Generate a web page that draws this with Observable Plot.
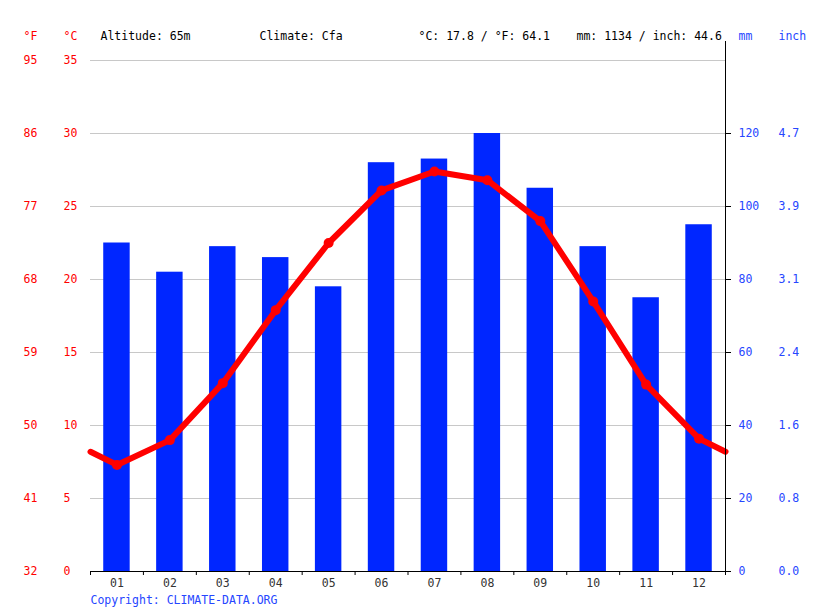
<!DOCTYPE html>
<html>
<head>
<meta charset="utf-8">
<script src="https://cdn.jsdelivr.net/npm/d3@7"></script>
<script src="https://cdn.jsdelivr.net/npm/@observablehq/plot@0.6"></script>
<style>
  html, body { margin: 0; padding: 0; background: #fff; }
</style>
</head>
<body>
<div id="chart"></div>
<script>
const months = ["01","02","03","04","05","06","07","08","09","10","11","12"];
const precipMm = [90, 82, 89, 86, 78, 112, 113, 120, 105, 89, 75, 95];
const tempC = [7.3, 9.0, 12.9, 17.9, 22.5, 26.1, 27.4, 26.8, 24.0, 18.5, 12.8, 9.1];
const tempTicksC = [0, 5, 10, 15, 20, 25, 30, 35];
const precipTicksMm = [0, 20, 40, 60, 80, 100, 120];
const headerTexts = ["Altitude: 65m", "Climate: Cfa", "°C: 17.8 / °F: 64.1", "mm: 1134 / inch: 44.6"];
const copyright = "Copyright: CLIMATE-DATA.ORG";

const RED = "#ff0000";
const BLUE = "#0026ff";
const BLUE_TEXT = "#2646ff";
const MM_PER_C = 4; // 140 mm spans the same height as 35 °C

const bars = months.map((m, i) => ({i, mm: precipMm[i]}));
const tempPts = months.map((m, i) => ({x: i + 0.5, t: tempC[i]}));
const edge = (tempC[0] + tempC[11]) / 2;
const tempLine = [{x: 0, t: edge}, ...tempPts, {x: 12, t: edge}];

const header = [
  {text: "°F", dx: -67, fill: RED},
  {text: "°C", dx: -27, fill: RED},
  {text: headerTexts[0], dx: 10, fill: "#000"},
  {text: headerTexts[1], dx: 169, fill: "#000"},
  {text: headerTexts[2], dx: 328, fill: "#000"},
  {text: headerTexts[3], dx: 486, fill: "#000"},
  {text: "mm", dx: 648, fill: BLUE_TEXT},
  {text: "inch", dx: 688, fill: BLUE_TEXT}
];

const chart = Plot.plot({
  width: 815,
  height: 611,
  marginLeft: 90,
  marginRight: 90,
  marginTop: 60,
  marginBottom: 40,
  style: {fontFamily: "DejaVu Sans Mono", fontSize: "11.5px", background: "#fff"},
  x: {type: "linear", domain: [0, 12]},
  y: {type: "linear", domain: [0, 35]},
  marks: [
    Plot.gridY({ticks: tempTicksC.slice(1), stroke: "#c8c8c8", strokeOpacity: 1}),
    Plot.rectY(bars, {x1: d => d.i + 0.25, x2: d => d.i + 0.75, y1: 0, y2: d => d.mm / MM_PER_C, fill: BLUE}),
    Plot.line(tempLine, {x: "x", y: "t", stroke: RED, strokeWidth: 6, curve: "linear"}),
    Plot.dot(tempPts, {x: "x", y: "t", r: 5, fill: RED}),
    // left axes (°F and °C)
    Plot.axisY({anchor: "left", ticks: tempTicksC, tickFormat: c => String(Math.round(c * 9 / 5 + 32)), tickSize: 0, tickPadding: 0, dx: -67, textAnchor: "start", fill: RED, label: null}),
    Plot.axisY({anchor: "left", ticks: tempTicksC, tickFormat: c => String(c), tickSize: 0, tickPadding: 0, dx: -27, textAnchor: "start", fill: RED, label: null}),
    // right axes (mm and inch)
    Plot.axisY({anchor: "right", ticks: precipTicksMm.map(m => m / MM_PER_C), tickFormat: d => String(Math.round(d * MM_PER_C)), tickSize: 5, tickPadding: 8, stroke: "#000", fill: BLUE_TEXT, label: null}),
    Plot.axisY({anchor: "right", ticks: precipTicksMm.map(m => m / MM_PER_C), tickFormat: d => (d * MM_PER_C / 25.4).toFixed(1), tickSize: 0, tickPadding: 53, fill: BLUE_TEXT, label: null}),
    Plot.ruleX([12], {stroke: "#000", insetTop: -19}),
    // bottom axis
    Plot.ruleY([0], {stroke: "#000"}),
    Plot.axisX({ticks: d3.range(0, 13), tickFormat: () => "", tickSize: 4, stroke: "#000", label: null}),
    Plot.axisX({ticks: months.map((m, i) => i + 0.5), tickFormat: d => months[Math.floor(d)], tickSize: 0, tickPadding: 7, fill: "#333", label: null}),
    // header and footer
    ...header.map(h => Plot.text([h.text], {text: d => d, frameAnchor: "top-left", lineAnchor: "middle", dx: h.dx, dy: -24, textAnchor: "start", fill: h.fill})),
    Plot.text([copyright], {text: d => d, frameAnchor: "bottom-left", lineAnchor: "middle", dy: 29, textAnchor: "start", fill: BLUE_TEXT})
  ]
});
document.getElementById("chart").appendChild(chart);
</script>
</body>
</html>
